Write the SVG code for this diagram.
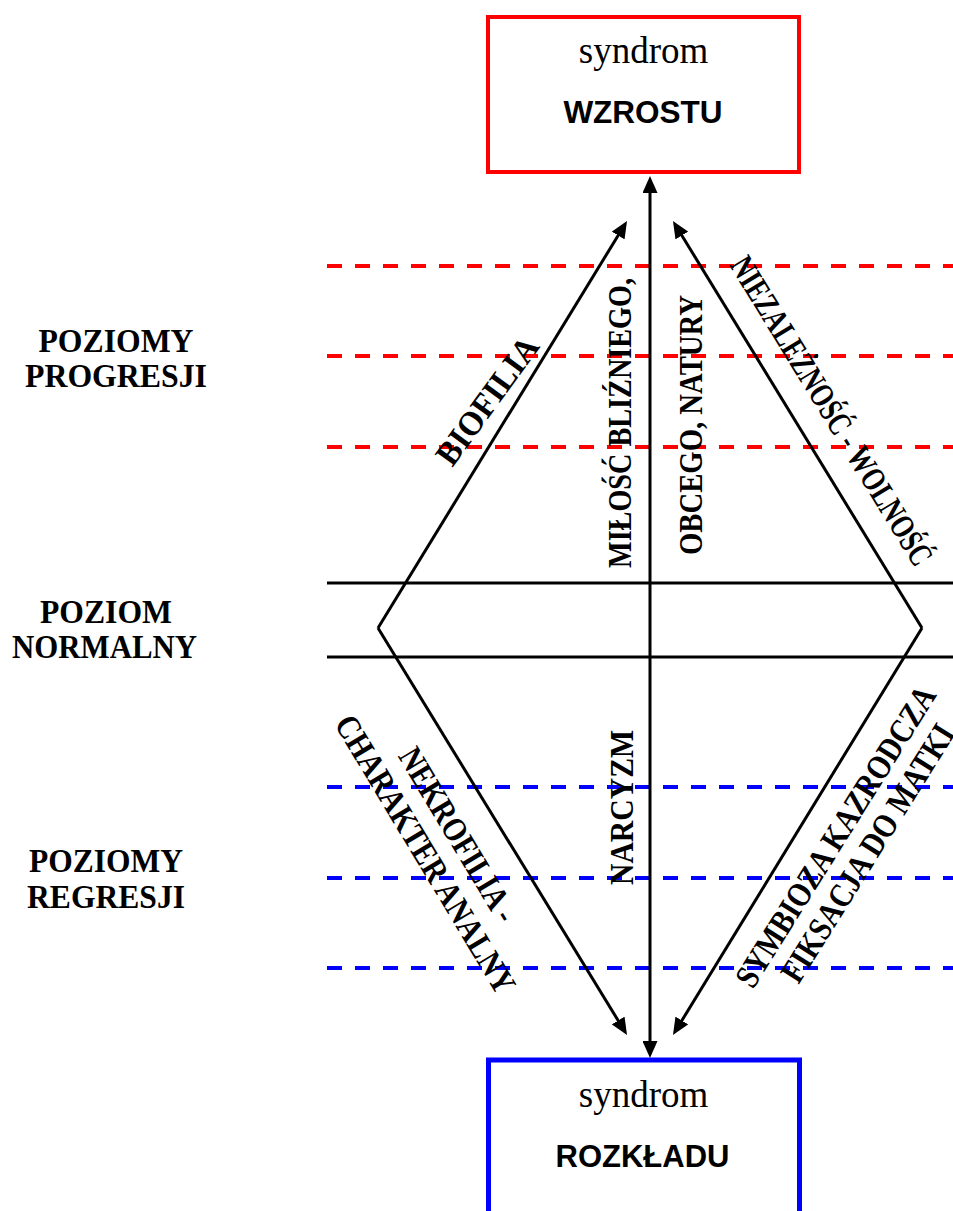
<svg xmlns="http://www.w3.org/2000/svg" width="953" height="1211" viewBox="0 0 953 1211">
<style>
.serif{font-family:"Liberation Serif","Times New Roman",serif;fill:#000}
.bold{font-weight:bold}
.sans{font-family:"Liberation Sans",Arial,sans-serif;font-weight:bold;fill:#000}
.lvl{font-size:34px;text-anchor:middle}
.rot{font-size:34px}
.conn{stroke:#000;stroke-width:3;fill:none}
.dash{stroke-width:4;stroke-dasharray:15 13;fill:none}
.solid{stroke:#000;stroke-width:3;fill:none}
</style>
<defs>
<marker id="ah" viewBox="0 0 17 15" refX="7" refY="7.5" markerWidth="17" markerHeight="15" markerUnits="userSpaceOnUse" orient="auto-start-reverse">
<path d="M0,0 L17,7.5 L0,15 z" fill="#000"/>
</marker>
</defs>
<rect width="953" height="1211" fill="#fff"/>

<g id="levels">
<line class="dash" x1="327" y1="266" x2="953" y2="266" stroke="#ff0000"/>
<line class="dash" x1="327" y1="356" x2="953" y2="356" stroke="#ff0000"/>
<line class="dash" x1="327" y1="447" x2="953" y2="447" stroke="#ff0000"/>
<line class="solid" x1="327" y1="583" x2="953" y2="583"/>
<line class="solid" x1="327" y1="657" x2="953" y2="657"/>
<line class="dash" x1="327" y1="787" x2="953" y2="787" stroke="#0000ff"/>
<line class="dash" x1="327" y1="878" x2="953" y2="878" stroke="#0000ff"/>
<line class="dash" x1="327" y1="968" x2="953" y2="968" stroke="#0000ff"/>
</g>

<g id="label-progresji" class="serif bold lvl">
<text x="116" y="352" textLength="155" lengthAdjust="spacingAndGlyphs">POZIOMY</text>
<text x="116" y="387" textLength="182" lengthAdjust="spacingAndGlyphs">PROGRESJI</text>
</g>
<g id="label-normalny" class="serif bold lvl">
<text x="106" y="623" textLength="132" lengthAdjust="spacingAndGlyphs">POZIOM</text>
<text x="104.5" y="658" textLength="185" lengthAdjust="spacingAndGlyphs">NORMALNY</text>
</g>
<g id="label-regresji" class="serif bold lvl">
<text x="106" y="872" textLength="154" lengthAdjust="spacingAndGlyphs">POZIOMY</text>
<text x="106" y="908" textLength="158" lengthAdjust="spacingAndGlyphs">REGRESJI</text>
</g>

<g id="node-wzrostu">
<rect x="488" y="17" width="311" height="155" fill="#fff" stroke="#ff0000" stroke-width="4"/>
<text class="serif" x="643.5" y="63" font-size="37" text-anchor="middle">syndrom</text>
<text class="sans" x="643" y="123" font-size="31.5" text-anchor="middle">WZROSTU</text>
</g>

<g id="node-rozkladu">
<rect x="488.5" y="1060" width="311" height="200" fill="#fff" stroke="#0000ff" stroke-width="5"/>
<text class="serif" x="643.5" y="1107" font-size="37" text-anchor="middle">syndrom</text>
<text class="sans" x="642.5" y="1167" font-size="31" text-anchor="middle">ROZKŁADU</text>
</g>

<g id="connectors">
<line class="conn" x1="378" y1="628" x2="621.8" y2="229.5" marker-end="url(#ah)"/>
<line class="conn" x1="922" y1="628" x2="678.2" y2="229.5" marker-end="url(#ah)"/>
<line class="conn" x1="378" y1="628" x2="621.8" y2="1026.5" marker-end="url(#ah)"/>
<line class="conn" x1="922" y1="628" x2="678.2" y2="1026.5" marker-end="url(#ah)"/>
<line class="conn" stroke-width="4" x1="650" y1="186" x2="650" y2="1048" marker-start="url(#ah)" marker-end="url(#ah)"/>
</g>

<g id="label-biofilia" class="serif bold rot">
<text transform="translate(496.4,407.4) rotate(-54)" text-anchor="middle" textLength="150" lengthAdjust="spacingAndGlyphs">BIOFILIA</text>
</g>
<g id="label-milosc" class="serif bold rot">
<text transform="translate(631,568) rotate(-90)" textLength="290" lengthAdjust="spacingAndGlyphs">MIŁOŚĆ BLIŹNIEGO,</text>
<text transform="translate(702,555) rotate(-90)" textLength="260" lengthAdjust="spacingAndGlyphs">OBCEGO,  NATURY</text>
</g>
<g id="label-niezaleznosc" class="serif bold rot">
<text transform="translate(729,265) rotate(58.5)" textLength="356" lengthAdjust="spacingAndGlyphs">NIEZALEŻNOŚĆ - WOLNOŚĆ</text>
</g>
<g id="label-narcyzm" class="serif bold rot">
<text transform="translate(633,885) rotate(-90)" textLength="155" lengthAdjust="spacingAndGlyphs">NARCYZM</text>
</g>
<g id="label-nekrofilia" class="serif bold rot" transform="translate(415.7,860.1) rotate(59)">
<text x="0" y="-38" text-anchor="middle" textLength="197" lengthAdjust="spacingAndGlyphs">NEKROFILIA -</text>
<text x="0" y="0" text-anchor="middle" textLength="318" lengthAdjust="spacingAndGlyphs">CHARAKTER ANALNY</text>
</g>
<g id="label-symbioza" class="serif bold rot" transform="translate(845.1,842.5) rotate(-58)">
<text x="0" y="0" text-anchor="middle" textLength="348" lengthAdjust="spacingAndGlyphs">SYMBIOZA  KAZRODCZA</text>
<text x="3" y="36" text-anchor="middle" textLength="297" lengthAdjust="spacingAndGlyphs">FIKSACJA  DO  MATKI</text>
</g>
</svg>
